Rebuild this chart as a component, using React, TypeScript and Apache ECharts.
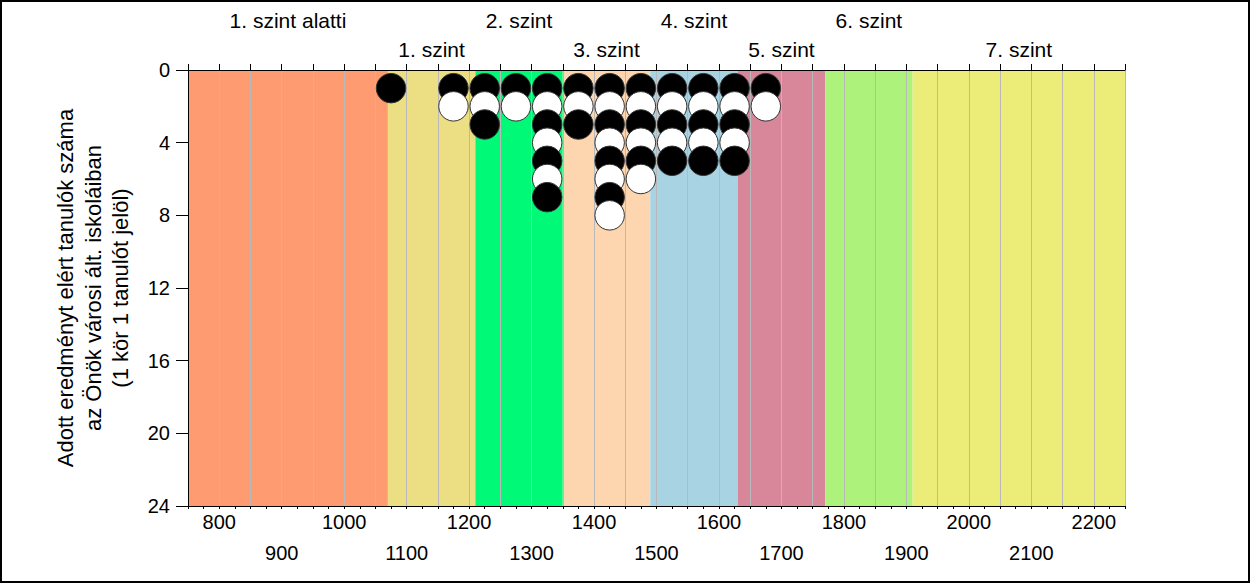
import React, { useEffect, useRef } from "react";
import * as echarts from "echarts";

// Score columns (x) and the stack of circles in each column, top to bottom (B = black, W = white)
const scores = [1075, 1175, 1225, 1275, 1325, 1375, 1425, 1475, 1525, 1575, 1625, 1675];
const stacks = ["B", "BW", "BWB", "BW", "BWBWBWB", "BWB", "BWBWBWBW", "BWBWBW", "BWBWB", "BWBWB", "BWBWB", "BW"];

// Proficiency levels
const levelNames = ["1. szint alatti", "1. szint", "2. szint", "3. szint", "4. szint", "5. szint", "6. szint", "7. szint"];
const levelBounds = [750, 1070, 1210, 1350, 1490, 1630, 1770, 1910, 2250];
const levelColors = ["#FF9B71", "#ECDF83", "#00FA78", "#FDD5AF", "#A7D3E2", "#D8879A", "#ADF27B", "#ECEC79"];

const xMin = 750;
const xMax = 2250;
const yTicks = [0, 4, 8, 12, 16, 20, 24];

const yTitle = "Adott eredményt elért tanulók száma\naz Önök városi ált. iskoláiban\n(1 kör 1 tanulót jelöl)";

const FONT = '"Liberation Sans", Arial, sans-serif';

export default function App() {
  const ref = useRef<HTMLDivElement>(null);
  useEffect(() => {
    if (!ref.current) return;
    const chart = echarts.init(ref.current, null, { renderer: "svg" });

    const points: any[] = [];
    scores.forEach((s, i) => {
      stacks[i].split("").forEach((c, k) => {
        points.push({
          value: [s, k + 1],
          itemStyle: { color: c === "B" ? "#000000" : "#ffffff" },
        });
      });
    });

    const areas = levelNames.map((name, i) => [
      {
        name,
        xAxis: levelBounds[i],
        itemStyle: { color: levelColors[i] },
        label: { distance: i % 2 === 0 ? 39.5 : 10 },
      },
      { xAxis: levelBounds[i + 1] },
    ]);

    chart.setOption({
      animation: false,
      textStyle: { fontFamily: FONT },
      grid: { left: 188, right: 125, top: 70, bottom: 77, containLabel: false },
      xAxis: [
        {
          type: "value",
          position: "bottom",
          min: xMin,
          max: xMax,
          interval: 25,
          z: 3,
          axisLine: { show: true, onZero: false, lineStyle: { color: "#000", width: 1 } },
          axisTick: { show: true, length: 3, lineStyle: { color: "#000" } },
          splitLine: { show: false },
          axisLabel: {
            fontSize: 20,
            color: "#000",
            fontFamily: FONT,
            lineHeight: 31,
            margin: 0,
            formatter: (v: number) =>
              v % 100 !== 0 ? "" : v % 200 === 0 ? String(v) : "\n" + v,
          },
        },
        {
          type: "value",
          position: "top",
          min: xMin,
          max: xMax,
          interval: 50,
          z: 3,
          axisLine: { show: true, onZero: false, lineStyle: { color: "#000", width: 1 } },
          axisTick: { show: true, length: 6, lineStyle: { color: "#000" } },
          axisLabel: { show: false },
          splitLine: { show: true, lineStyle: { color: "#b9b9b9", width: 1 } },
        },
      ],
      yAxis: {
        type: "value",
        inverse: true,
        min: yTicks[0],
        max: yTicks[yTicks.length - 1],
        interval: 4,
        z: 3,
        axisLine: { show: true, onZero: false, lineStyle: { color: "#000", width: 1 } },
        axisTick: { show: true, length: 12, lineStyle: { color: "#000" } },
        axisLabel: { fontSize: 20, color: "#000", margin: 18, fontFamily: FONT },
        splitLine: { show: false },
      },
      series: [
        {
          type: "scatter",
          data: [],
          z: 1,
          silent: true,
          markArea: {
            z: 1,
            silent: true,
            label: {
              show: true,
              position: "top",
              color: "#000",
              fontSize: 21,
              lineHeight: 21,
              fontFamily: FONT,
              formatter: "{b}",
            },
            data: areas,
          },
        },
        {
          type: "scatter",
          z: 5,
          xAxisIndex: 0,
          yAxisIndex: 0,
          symbol: "circle",
          symbolSize: 29.5,
          itemStyle: { borderColor: "#333", borderWidth: 1, opacity: 1 },
          data: points,
        },
      ],
      graphic: [
        {
          type: "text",
          x: 93,
          y: 288,
          rotation: Math.PI / 2,
          z: 10,
          style: {
            text: yTitle,
            fill: "#000",
            fontSize: 22,
            lineHeight: 27.5,
            fontFamily: FONT,
            align: "center",
            verticalAlign: "middle",
          },
        },
        {
          type: "rect",
          z: 100,
          shape: { x: 1, y: 1, width: 1248, height: 581 },
          style: { fill: "none", stroke: "#000", lineWidth: 2 },
        },
      ],
    });
    return () => chart.dispose();
  }, []);
  return (
    <div
      ref={ref}
      style={{ position: "fixed", left: 0, top: 0, width: 1250, height: 583, background: "#fff" }}
    />
  );
}
